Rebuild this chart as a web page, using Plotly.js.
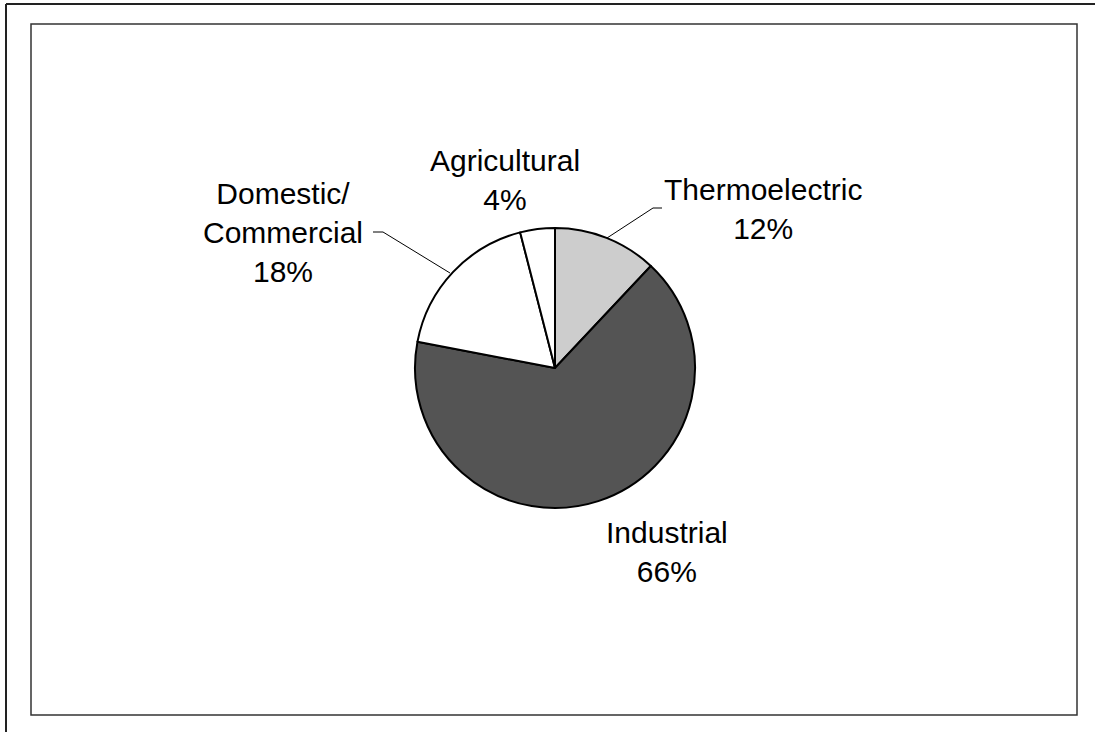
<!DOCTYPE html>
<html>
<head>
<meta charset="utf-8">
<script src="https://cdn.plot.ly/plotly-3.0.1.min.js"></script>
<style>html,body{margin:0;padding:0;background:#fff;}#chart{width:1095px;height:732px;}</style>
</head>
<body>
<div id="chart"></div>
<script>
// Data
const categories = ['Thermoelectric', 'Industrial', 'Domestic/Commercial', 'Agricultural'];
const labelText = ['Thermoelectric', 'Industrial', 'Domestic/<br>Commercial', 'Agricultural'];
const shares = [12, 66, 18, 4];
const sliceColors = ['#cdcdcd', '#545454', '#ffffff', '#ffffff'];

const W = 1095, H = 732;
const px = x => x / W;
const py = y => 1 - y / H;

// Pie geometry (pixels)
const cx = 555, cy = 368, r = 140;

// Label anchor points (pixels) for each category, in order
const labelPos = [[763, 209], [667, 552], [283, 232], [505, 180]];

const trace = {
  type: 'pie',
  labels: categories,
  values: shares,
  sort: false,
  direction: 'clockwise',
  rotation: 0,
  textinfo: 'none',
  textposition: 'none',
  hoverinfo: 'label+percent',
  showlegend: false,
  marker: { colors: sliceColors, line: { color: '#000000', width: 2 } },
  domain: { x: [px(cx - r), px(cx + r)], y: [py(cy + r), py(cy - r)] }
};

const annotations = categories.map((c, i) => ({
  xref: 'paper', yref: 'paper',
  x: px(labelPos[i][0]), y: py(labelPos[i][1]),
  xanchor: 'center', yanchor: 'middle',
  text: labelText[i] + '<br>' + shares[i] + '%',
  showarrow: false,
  align: 'center',
  font: { family: 'Liberation Sans, Arial, sans-serif', size: 30, color: '#000' }
}));

function pathOf(pts) {
  return pts.map((p, i) => (i ? 'L ' : 'M ') + px(p[0]) + ' ' + py(p[1])).join(' ');
}

const shapes = [
  // outer frame (top and left visible)
  { type: 'line', xref: 'paper', yref: 'paper', x0: px(6), y0: py(4), x1: px(1095), y1: py(4), line: { color: '#222', width: 2 } },
  { type: 'line', xref: 'paper', yref: 'paper', x0: px(6), y0: py(4), x1: px(6), y1: py(732), line: { color: '#222', width: 2 } },
  // inner frame
  { type: 'rect', xref: 'paper', yref: 'paper', x0: px(31), y0: py(24), x1: px(1077), y1: py(715), line: { color: '#333', width: 1.5 } },
  // leader lines
  { type: 'path', xref: 'paper', yref: 'paper', path: pathOf([[373, 232], [383, 232], [450, 273]]), line: { color: '#000', width: 1 } },
  { type: 'path', xref: 'paper', yref: 'paper', path: pathOf([[662, 208], [653, 208], [607, 238]]), line: { color: '#000', width: 1 } }
];

const layout = {
  width: W, height: H,
  margin: { l: 0, r: 0, t: 0, b: 0 },
  paper_bgcolor: '#ffffff',
  plot_bgcolor: '#ffffff',
  showlegend: false,
  annotations: annotations,
  shapes: shapes,
  font: { family: 'Liberation Sans, Arial, sans-serif', color: '#000' }
};

Plotly.newPlot('chart', [trace], layout, { displayModeBar: false, staticPlot: true });
</script>
</body>
</html>
